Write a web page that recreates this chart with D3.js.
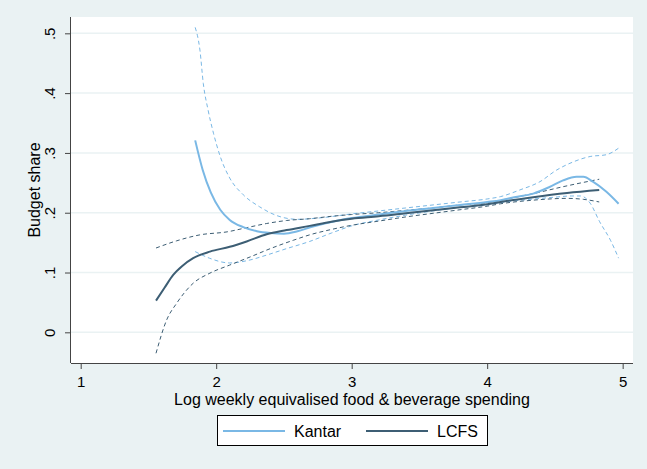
<!DOCTYPE html>
<html><head><meta charset="utf-8">
<script src="https://cdn.jsdelivr.net/npm/d3@7"></script>
<style>body{margin:0;background:#eaf2f3;} text{font-family:"Liberation Sans",Arial,sans-serif;}</style>
</head><body>
<script>
const xTicks = [1,2,3,4,5];
const yTicks = [0,0.1,0.2,0.3,0.4,0.5];
const yTickLabels = ["0",".1",".2",".3",".4",".5"];
const seriesNames = ["Kantar","LCFS"];

const kantarX    = [1.845,1.90,1.96,2.03,2.10,2.20,2.30,2.40,2.50,2.60,2.70,2.80,2.90,3.00,3.20,3.40,3.60,3.80,4.00,4.10,4.20,4.34,4.46,4.56,4.66,4.71,4.78,4.88,4.97];
const kantarMean = [0.321,0.272,0.234,0.205,0.188,0.176,0.169,0.166,0.165,0.169,0.176,0.182,0.187,0.191,0.197,0.203,0.208,0.213,0.218,0.221,0.226,0.232,0.243,0.254,0.260,0.260,0.252,0.235,0.215];

const kantarUpX  = [1.845,1.88,1.905,1.94,1.98,2.03,2.10,2.20,2.32,2.45,2.60,2.75,3.00,3.20,3.40,3.60,3.80,4.00,4.10,4.24,4.39,4.51,4.635,4.76,4.88,4.97];
const kantarUp   = [0.510,0.472,0.416,0.372,0.333,0.294,0.258,0.230,0.210,0.195,0.189,0.191,0.198,0.203,0.208,0.213,0.218,0.223,0.227,0.238,0.252,0.271,0.285,0.294,0.297,0.308];

const kantarLoX  = [1.845,1.95,2.10,2.25,2.37,2.52,2.69,2.85,3.00,3.20,3.40,3.60,3.80,4.00,4.10,4.30,4.50,4.62,4.69,4.76,4.83,4.91,4.97];
const kantarLo   = [0.135,0.124,0.116,0.121,0.129,0.140,0.152,0.166,0.178,0.188,0.196,0.203,0.209,0.213,0.217,0.222,0.226,0.228,0.228,0.216,0.185,0.154,0.124];

const lcfsX      = [1.556,1.62,1.683,1.75,1.83,1.954,2.10,2.225,2.373,2.52,2.69,2.85,3.00,3.20,3.40,3.60,3.80,4.00,4.10,4.34,4.59,4.827];
const lcfsMean   = [0.053,0.075,0.096,0.111,0.124,0.135,0.143,0.152,0.164,0.171,0.178,0.185,0.190,0.194,0.199,0.204,0.209,0.214,0.218,0.226,0.233,0.238];

const lcfsUpX    = [1.556,1.708,1.88,2.08,2.225,2.373,2.52,2.69,2.85,3.00,3.20,3.40,3.60,3.80,4.00,4.10,4.34,4.59,4.827];
const lcfsUp     = [0.141,0.153,0.163,0.168,0.175,0.182,0.187,0.190,0.194,0.197,0.200,0.204,0.208,0.213,0.217,0.221,0.232,0.245,0.256];

const lcfsLoX    = [1.556,1.635,1.708,1.83,1.954,2.10,2.25,2.40,2.57,2.69,2.85,3.00,3.20,3.40,3.60,3.80,4.00,4.10,4.34,4.59,4.71,4.827];
const lcfsLo     = [-0.035,0.021,0.0485,0.082,0.099,0.1125,0.126,0.140,0.154,0.163,0.172,0.179,0.186,0.193,0.199,0.205,0.211,0.215,0.221,0.224,0.2224,0.218];

const W = 647, H = 469;
const L = 71, R = 633, T = 17, B = 363;
const colK = "#7ab8e5", colL = "#3d5e74";

const svg = d3.select("body").append("svg").attr("width", W).attr("height", H);
svg.append("rect").attr("width", W).attr("height", H).attr("fill", "#eaf2f3");
svg.append("rect").attr("x", L).attr("y", T).attr("width", R-L).attr("height", B-T).attr("fill", "#ffffff");

const x = d3.scaleLinear().domain([0.9285, 5.0763]).range([L, R]);
const y = d3.scaleLinear().domain([-0.0513, 0.5273]).range([B, T]);

// gridlines
svg.append("g").selectAll("line").data(yTicks).join("line")
  .attr("x1", L).attr("x2", R).attr("y1", d => y(d)).attr("y2", d => y(d))
  .attr("stroke", "#eaf2f3").attr("stroke-width", 1.5);

// axes
const xAxis = d3.axisBottom(x).tickValues(xTicks).tickSize(6).tickPadding(7).tickFormat(d3.format("d"));
const gx = svg.append("g").attr("transform", `translate(0,${B})`).call(xAxis);
gx.select(".domain").attr("d", `M${L},0.5H${R}`).attr("stroke", "#444");
gx.selectAll(".tick line").attr("stroke", "#444");
gx.selectAll("text").attr("font-size", 15).attr("fill", "#000").attr("font-family", "Liberation Sans, Arial, sans-serif");

const yAxis = d3.axisLeft(y).tickValues(yTicks).tickSize(6).tickFormat((d,i) => yTickLabels[i]);
const gy = svg.append("g").attr("transform", `translate(${L},0)`).call(yAxis);
gy.select(".domain").attr("d", `M-0.5,${T}V${B}`).attr("stroke", "#444");
gy.selectAll(".tick line").attr("stroke", "#444");
gy.selectAll("text").attr("font-size", 15).attr("fill", "#000").attr("font-family", "Liberation Sans, Arial, sans-serif")
  .attr("transform", "rotate(-90)").attr("x", 0).attr("y", -16).attr("dy", 0).attr("text-anchor", "middle");

// axis titles
svg.append("text").attr("x", (L+R)/2).attr("y", 405).attr("text-anchor", "middle")
  .attr("font-size", 16).text("Log weekly equivalised food & beverage spending");
svg.append("text").attr("transform", `translate(40,${(T+B)/2}) rotate(-90)`).attr("text-anchor", "middle")
  .attr("font-size", 16).text("Budget share");

const line = d3.line().x(d => x(d[0])).y(d => y(d[1])).curve(d3.curveMonotoneX);
const zip = (a, b) => a.map((v, i) => [v, b[i]]);

const g = svg.append("g");
function draw(xs, ys, col, w, dash) {
  g.append("path").datum(zip(xs, ys)).attr("d", line).attr("fill", "none")
    .attr("stroke", col).attr("stroke-width", w).attr("stroke-dasharray", dash || null);
}
draw(kantarUpX, kantarUp, colK, 1, "4,3");
draw(kantarLoX, kantarLo, colK, 1, "4,3");
draw(lcfsUpX, lcfsUp, colL, 1, "4,3");
draw(lcfsLoX, lcfsLo, colL, 1, "4,3");
draw(kantarX, kantarMean, colK, 2, null);
draw(lcfsX, lcfsMean, colL, 2, null);

// legend
const lg = svg.append("g");
lg.append("rect").attr("x", 217.5).attr("y", 415.5).attr("width", 270).attr("height", 30)
  .attr("fill", "#fff").attr("stroke", "#000").attr("stroke-width", 1);
const items = [{name: seriesNames[0], col: colK, x0: 223}, {name: seriesNames[1], col: colL, x0: 366}];
items.forEach(it => {
  lg.append("line").attr("x1", it.x0).attr("x2", it.x0 + 62).attr("y1", 431).attr("y2", 431)
    .attr("stroke", it.col).attr("stroke-width", 2);
  lg.append("text").attr("x", it.x0 + 71).attr("y", 436.5).attr("font-size", 16).text(it.name);
});
</script>
</body></html>
